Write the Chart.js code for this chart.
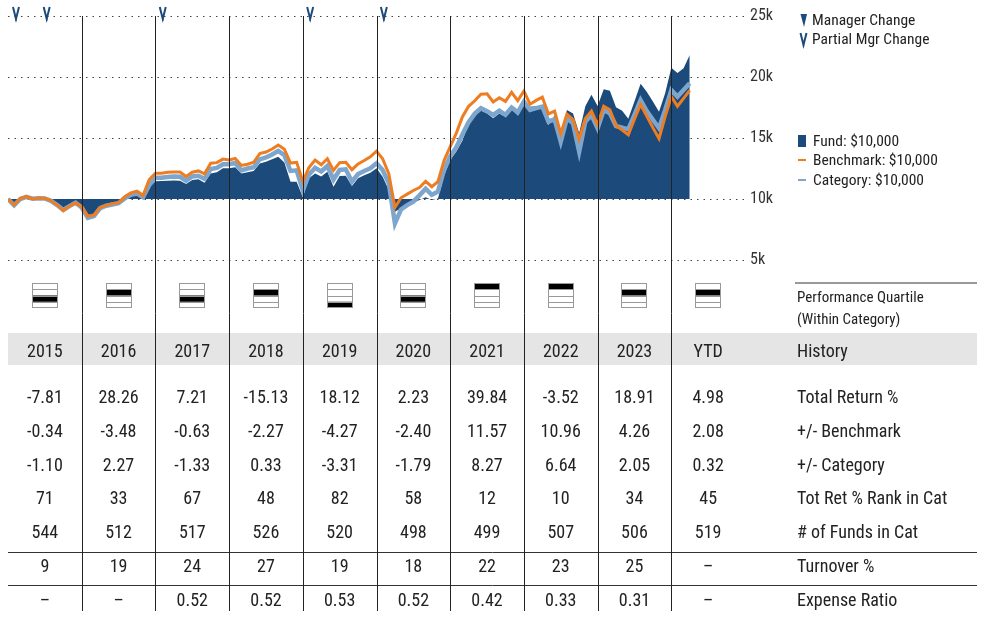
<!DOCTYPE html>
<html><head><meta charset="utf-8">
<script src="https://cdn.jsdelivr.net/npm/chart.js@4.4.1/dist/chart.umd.min.js"></script>
<style>html,body{margin:0;padding:0;background:#fff;}canvas{display:block;}</style>
</head><body>
<canvas id="c" width="987" height="628"></canvas>
<script>
// ---- data ----
const years = ['2015','2016','2017','2018','2019','2020','2021','2022','2023','YTD'];
const yTicks = [5000, 10000, 15000, 20000, 25000];
// monthly growth of $10,000 (month 0 = start of 2015)
const fundValues = [10000,9560,10020,10150,10000,10050,10020,9800,9450,9050,9380,9650,
 9250,8650,8700,9250,9420,9550,9620,9950,10250,10400,10050,11000,
 11450,11480,11500,11520,11500,11230,11560,11620,11340,12100,12190,12520,
 12520,12600,12100,12200,12300,12900,13050,13250,13470,13000,11420,11420,
 10140,11700,12100,11850,12240,11010,11890,11900,11070,11700,11950,12150,
 12520,11830,10740,8960,9250,9450,9700,9920,10140,9920,10050,11900,
 13200,13900,14800,16200,16800,17250,17000,16610,17000,16720,17400,16850,
 17950,17570,17600,17600,16070,16850,14850,17300,17000,15400,17600,18550,
 17620,19000,18880,17520,17240,16580,18000,19450,18800,18000,17160,18660,
 20750,20330,20710,21800];
const benchmarkValues = [10000,9510,10050,10190,10000,10080,10060,9850,9500,9050,9400,9700,
 9350,8600,8680,9300,9480,9620,9700,10180,10500,10640,10300,11600,
 12120,12120,12200,12220,12210,11850,12200,12300,12060,12930,12980,13270,
 13200,13320,12750,12850,13010,13720,13850,14100,14420,14080,12950,13010,
 11450,12580,13200,12810,13300,12350,12980,13010,12400,12870,13150,13450,
 13920,13300,12080,9300,10100,10400,10700,10940,11450,11010,11420,13150,
 14300,15400,16750,17600,18050,18580,18620,17950,18300,18000,18750,18060,
 18850,17770,18080,18350,16970,17200,15350,16950,16500,14900,16600,17200,
 16070,17600,17320,16000,15650,15260,16550,17750,16800,15850,14950,16750,
 18400,17600,18250,18900];
const categoryValues = [10000,9480,10000,10170,10020,10060,10050,9850,9500,9100,9420,9700,
 9300,8450,8600,9250,9450,9550,9650,10050,10350,10450,10150,11150,
 11750,11750,11800,11850,11820,11500,11850,11900,11650,12450,12550,12850,
 12850,12950,12350,12500,12600,13250,13400,13650,13950,13600,12300,12350,
 10700,12000,12550,12250,12700,11600,12380,12430,11420,12050,12300,12520,
 12930,12380,11290,8000,9150,9500,9780,10300,10850,10350,10600,12400,
 13500,14250,15300,16300,17000,17440,17200,16890,17240,16900,17500,17100,
 17980,17300,17450,17570,16340,16530,14700,16610,16200,13880,16340,16890,
 15800,17300,17020,15980,15850,15710,16900,18100,17200,16500,15800,17300,
 18930,18390,18930,19480];
const partialMgrChangeMonths = [1.3, 6.3, 25.2, 49.2, 61.2];
const quartiles = [3,2,3,2,4,3,1,1,2,2];
const totalReturn = [-7.81,28.26,7.21,-15.13,18.12,2.23,39.84,-3.52,18.91,4.98];
const vsBenchmark = [-0.34,-3.48,-0.63,-2.27,-4.27,-2.40,11.57,10.96,4.26,2.08];
const vsCategory = [-1.10,2.27,-1.33,0.33,-3.31,-1.79,8.27,6.64,2.05,0.32];
const rankInCat = [71,33,67,48,82,58,12,10,34,45];
const fundsInCat = [544,512,517,526,520,498,499,507,506,519];
const turnover = [9,19,24,27,19,18,22,23,25,null];
const expenseRatio = [null,null,0.52,0.52,0.53,0.52,0.42,0.33,0.31,null];

// ---- styling ----
const FONT = '"Liberation Sans Narrow", "Arial Narrow", "Roboto Condensed", sans-serif';
const NAVY = '#1b4a7b', ORANGE = '#ee7d21', LIGHT = '#7ea6cd', TXT = '#222';
const pts = arr => arr.map((v, i) => ({x: i, y: v}));

const overlay = {
  id: 'overlay',
  afterDraw(chart) {
    const ctx = chart.ctx, xs = chart.scales.x, a = chart.chartArea;
    const colX = i => xs.getPixelForValue(i * 12 + 6);
    const L = a.left, R = 977;
    const line = (x1, y1, x2, y2) => { ctx.beginPath(); ctx.moveTo(x1, y1); ctx.lineTo(x2, y2); ctx.stroke(); };
    ctx.save();
    // history band
    ctx.fillStyle = '#e5e5e5';
    ctx.fillRect(L, 333, R - L, 32);
    // horizontal rules
    ctx.strokeStyle = '#333'; ctx.lineWidth = 1;
    line(L, 552.5, R, 552.5);
    line(L, 585.5, R, 585.5);
    ctx.strokeStyle = '#777'; ctx.lineWidth = 1.5;
    line(795, 283, R, 283);
    // vertical year lines
    ctx.strokeStyle = '#222'; ctx.lineWidth = 1;
    for (let k = 1; k < years.length; k++) {
      const x = Math.round(xs.getPixelForValue(k * 12)) + 0.5;
      line(x, a.top, x, 611);
    }
    // quartile icons
    quartiles.forEach((q, i) => {
      const cx = Math.round(colX(i)), w = 26, top = 283, h = 25, rh = h / 4;
      const x0 = cx - w / 2;
      ctx.fillStyle = '#000';
      ctx.fillRect(x0, top + (q - 1) * rh, w, rh);
      ctx.strokeStyle = '#999'; ctx.lineWidth = 1;
      ctx.strokeRect(x0 + 0.5, top + 0.5, w - 1, h - 1);
      for (let r = 1; r < 4; r++) line(x0, Math.round(top + r * rh) + 0.5, x0 + w, Math.round(top + r * rh) + 0.5);
    });
    // table text
    ctx.fillStyle = TXT; ctx.textBaseline = 'middle';
    const f2 = v => v == null ? '–' : v.toFixed(2);
    const f0 = v => v == null ? '–' : String(v);
    const rows = [
      [352, years, v => v, 'History'],
      [398, totalReturn, f2, 'Total Return %'],
      [432, vsBenchmark, f2, '+/- Benchmark'],
      [466, vsCategory, f2, '+/- Category'],
      [499, rankInCat, f0, 'Tot Ret % Rank in Cat'],
      [533, fundsInCat, f0, '# of Funds in Cat'],
      [567, turnover, f0, 'Turnover %'],
      [601, expenseRatio, f2, 'Expense Ratio']
    ];
    ctx.font = '18px ' + FONT;
    rows.forEach(([y, vals, fmt, label]) => {
      ctx.textAlign = 'center';
      vals.forEach((v, i) => ctx.fillText(fmt(v), colX(i), y));
      ctx.textAlign = 'left';
      ctx.fillText(label, 797, y);
    });
    ctx.font = '15px ' + FONT;
    ctx.fillText('Performance Quartile', 797, 298);
    ctx.fillText('(Within Category)', 797, 320);
    // partial manager change markers
    ctx.strokeStyle = NAVY; ctx.lineWidth = 2; ctx.lineJoin = 'miter';
    const drawV = (x, y0, y1) => {
      ctx.beginPath(); ctx.moveTo(x - 3, y0); ctx.lineTo(x, y1); ctx.lineTo(x + 3, y0); ctx.stroke();
      ctx.lineWidth = 1.2; line(x, y1 - 1, x, y1 + 2); ctx.lineWidth = 2;
    };
    partialMgrChangeMonths.forEach(m => drawV(xs.getPixelForValue(m), 7, 19));
    // legend
    ctx.fillStyle = NAVY;
    ctx.beginPath(); ctx.moveTo(800.5, 14); ctx.lineTo(807, 14); ctx.lineTo(804, 27); ctx.closePath(); ctx.fill();
    drawV(803.5, 33, 45);
    ctx.fillRect(798, 135, 8, 12);
    ctx.fillStyle = ORANGE; ctx.fillRect(798, 159, 8, 2);
    ctx.fillStyle = LIGHT; ctx.fillRect(798, 179, 8, 2);
    ctx.fillStyle = TXT; ctx.font = '15.5px ' + FONT; ctx.textAlign = 'left';
    ctx.fillText('Manager Change', 812, 21);
    ctx.fillText('Partial Mgr Change', 812, 40);
    ctx.fillText('Fund: $10,000', 813, 142);
    ctx.fillText('Benchmark: $10,000', 813, 161);
    ctx.fillText('Category: $10,000', 813, 181);
    ctx.restore();
  }
};

new Chart(document.getElementById('c'), {
  type: 'line',
  data: {
    datasets: [
      {label: 'Benchmark', data: pts(benchmarkValues), borderColor: ORANGE, borderWidth: 3, pointRadius: 0, fill: false, order: 0},
      {label: 'Category', data: pts(categoryValues), borderColor: LIGHT, borderWidth: 4.5, pointRadius: 0, fill: false, order: 1},
      {label: 'Fund', data: pts(fundValues), borderWidth: 0, borderColor: 'rgba(0,0,0,0)', backgroundColor: NAVY, pointRadius: 0, fill: {value: 10000}, order: 2}
    ]
  },
  options: {
    responsive: false, animation: false, devicePixelRatio: 1,
    layout: {padding: {left: 8, top: 16, right: 0, bottom: 368}},
    plugins: {legend: {display: false}, tooltip: {enabled: false}},
    elements: {line: {tension: 0}},
    scales: {
      x: {type: 'linear', min: 0, max: years.length * 12, display: false},
      y: {
        position: 'right', min: yTicks[0], max: yTicks[yTicks.length - 1],
        afterBuildTicks: s => { s.ticks = yTicks.map(v => ({value: v})); },
        afterFit: s => { s.width = 242; },
        ticks: {callback: v => (v / 1000) + 'k', color: '#333', padding: 5, font: {family: FONT, size: 16}},
        grid: {color: '#444', lineWidth: 1, drawTicks: false},
        border: {display: false, dash: [1.5, 5]}
      }
    }
  },
  plugins: [overlay]
});
</script>
</body></html>
